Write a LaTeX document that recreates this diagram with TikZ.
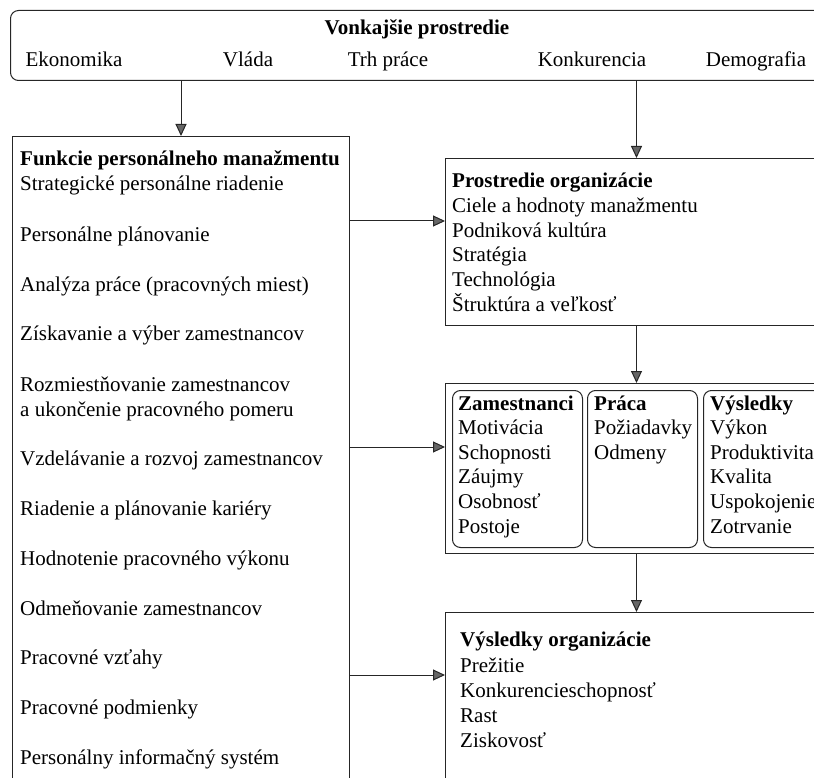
\documentclass[tikz,border=0pt]{standalone}
\usepackage{fontspec}
\setmainfont{Liberation Serif}
\usetikzlibrary{arrows.meta}

\tikzset{
  box/.style={draw=black!85, line width=1pt, anchor=north west, inner sep=0pt},
  inbox/.style={box, rounded corners=8pt},
  lbl/.style={anchor=base west, inner sep=0pt, font=\fontsize{21}{25}\selectfont},
  ttl/.style={lbl, font=\fontsize{21}{25}\selectfont\bfseries},
  arr/.style={draw=black!85, line width=1pt, -{Triangle[length=12pt,width=11pt,fill=black!60]}},
}

\begin{document}
\begin{tikzpicture}[x=1pt, y=-1pt]
\useasboundingbox (0,0) rectangle (814,778);
\clip (0,0) rectangle (814,778);

% Vonkajsie prostredie
\node[box, rounded corners=8pt, minimum width=820pt, minimum height=70pt] (ext) at (10,10) {};
\node[ttl, anchor=base] (extT) at (417,35) {Vonkajšie prostredie};
\node[lbl, anchor=base] (e1) at (74,67) {Ekonomika};
\node[lbl, anchor=base] (e2) at (248,67) {Vláda};
\node[lbl, anchor=base] (e3) at (388,67) {Trh práce};
\node[lbl, anchor=base] (e4) at (592,67) {Konkurencia};
\node[lbl, anchor=base] (e5) at (756,67) {Demografia};

% Funkcie personalneho manazmentu
\node[box, minimum width=337pt, minimum height=700pt] (fun) at (12,136) {};
\node[ttl] (funT) at (20,166) {Funkcie personálneho manažmentu};
\foreach \y/\t [count=\i] in {191/Strategické personálne riadenie,
    241/Personálne plánovanie,
    291/Analýza práce (pracovných miest),
    340/Získavanie a výber zamestnancov,
    391/Rozmiestňovanie zamestnancov,
    416/a ukončenie pracovného pomeru,
    465/Vzdelávanie a rozvoj zamestnancov,
    515/Riadenie a plánovanie kariéry,
    565/Hodnotenie pracovného výkonu,
    615/Odmeňovanie zamestnancov,
    664/Pracovné vzťahy,
    714/Pracovné podmienky,
    764/Personálny informačný systém}
  \node[lbl] (f\i) at (20,\y) {\t};

% Prostredie organizacie
\node[box, minimum width=382pt, minimum height=167pt] (org) at (445,158) {};
\node[ttl] (orgT) at (452,188) {Prostredie organizácie};
\foreach \t [count=\i] in {Ciele a hodnoty manažmentu, Podniková kultúra,
    Stratégia, Technológia, Štruktúra a veľkosť}
  \node[lbl] (o\i) at (452,188+24.6*\i) {\t};

% Zamestnanci / Praca / Vysledky
\node[box, minimum width=382pt, minimum height=170pt] (mid) at (445,383) {};
\node[inbox, minimum width=130pt, minimum height=157pt] (zam) at (452,390) {};
\node[inbox, minimum width=110pt, minimum height=157pt] (pra) at (587,390) {};
\node[inbox, minimum width=130pt, minimum height=157pt] (vys) at (703,390) {};
\node[ttl] (zamT) at (458,410) {Zamestnanci};
\foreach \t [count=\i] in {Motivácia, Schopnosti, Záujmy, Osobnosť, Postoje}
  \node[lbl] (z\i) at (458,410+24.6*\i) {\t};
\node[ttl] (praT) at (594,410) {Práca};
\foreach \t [count=\i] in {Požiadavky, Odmeny}
  \node[lbl] (p\i) at (594,410+24.6*\i) {\t};
\node[ttl] (vysT) at (710,410) {Výsledky};
\foreach \t [count=\i] in {Výkon, Produktivita, Kvalita, Uspokojenie, Zotrvanie}
  \node[lbl] (v\i) at (710,410+24.6*\i) {\t};

% Vysledky organizacie
\node[box, minimum width=382pt, minimum height=200pt] (res) at (445,612) {};
\node[ttl] (resT) at (460,646) {Výsledky organizácie};
\foreach \t [count=\i] in {Prežitie, Konkurencieschopnosť, Rast, Ziskovosť}
  \node[lbl] (r\i) at (460,647+25*\i) {\t};

% sipky
\coordinate (h1) at (0,221);
\coordinate (h2) at (0,447);
\coordinate (h3) at (0,675);
\draw[arr] (ext.south -| fun.north) -- (fun.north);
\draw[arr] (ext.south -| org.north) -- (org.north);
\draw[arr] (org.south) -- (mid.north);
\draw[arr] (mid.south) -- (res.north);
\draw[arr] (fun.east |- h1) -- (org.west |- h1);
\draw[arr] (fun.east |- h2) -- (mid.west |- h2);
\draw[arr] (fun.east |- h3) -- (res.west |- h3);
\end{tikzpicture}
\end{document}
